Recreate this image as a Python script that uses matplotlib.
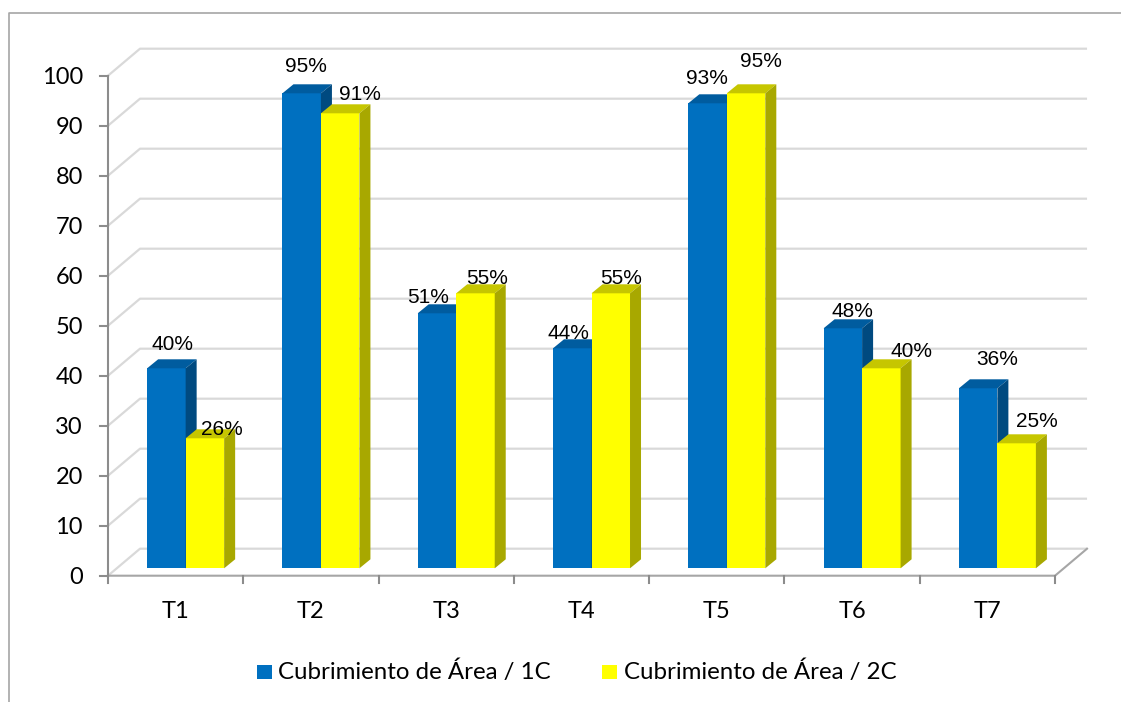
import matplotlib
matplotlib.use("Agg")
import matplotlib.pyplot as plt
from matplotlib.patches import Polygon, Rectangle

# ---- data -------------------------------------------------------------
categories = ["T1", "T2", "T3", "T4", "T5", "T6", "T7"]
cubrimiento_1c = [40, 95, 51, 44, 93, 48, 36]
cubrimiento_2c = [26, 91, 55, 55, 95, 40, 25]
series_names = ["Cubrimiento de Área / 1C", "Cubrimiento de Área / 2C"]
y_ticks = [0, 10, 20, 30, 40, 50, 60, 70, 80, 90, 100]

# ---- styling ------------------------------------------------------------
faces_1c = ("#0070C0", "#005C9F", "#004A80")   # front, top, side
faces_2c = ("#FFFF00", "#C6C600", "#A8A800")
GRID = "#D9D9D9"
AXIS = "#8C8C8C"
TICK_FONT = "Lato"
LABEL_FONT = "Liberation Sans"

# label nudges (pixels: right, down) so that labels avoid neighbouring bars
nudge_1c = [(0, -1), (-1.6, -4), (-14.4, 6.7), (-10.2, 7.4), (-6.5, -2.3), (4, 6), (13, -6)]
nudge_2c = [(10.8, 14), (13.4, 3.2), (6, 7.4), (4.8, 7.4), (8.6, -9.6), (24.5, 5.7), (14.7, 0.7)]

W, H = 1121, 702
fig = plt.figure(figsize=(W / 100, H / 100), dpi=100)
ax = fig.add_axes([0, 0, 1, 1])

CAT_PX = 135.29      # pixels per category
UNIT_PX = 5.0        # pixels per value unit
X_LEFT_PX = 108      # left end of the category axis
Y_ZERO_PX = 575.7    # value 0 on the front plane
ax.set_xlim(-0.5 - X_LEFT_PX / CAT_PX, -0.5 + (W - X_LEFT_PX) / CAT_PX)
ax.set_ylim((Y_ZERO_PX - H) / UNIT_PX, Y_ZERO_PX / UNIT_PX)
ax.axis("off")


def dx(px):
    return px / CAT_PX


def dy(px):
    return px / UNIT_PX


def at_px(xp, yp):
    """Screen pixel (from top-left) to data coordinates."""
    return -0.5 + (xp - X_LEFT_PX) / CAT_PX, (Y_ZERO_PX - yp) / UNIT_PX


n = len(categories)
x_lo, x_hi = -0.5, n - 0.5
DEPTH_X, DEPTH_Y = dx(32), dy(27)          # floor / wall depth
ymax = max(y_ticks)

# back wall + left wall gridlines
for v in y_ticks:
    ax.plot([x_lo, x_lo + DEPTH_X, x_hi + DEPTH_X], [v, v + DEPTH_Y, v + DEPTH_Y],
            color=GRID, lw=1.6, solid_capstyle="butt", zorder=1)

# floor edges
ax.plot([x_lo, x_hi, x_hi + DEPTH_X], [0, 0, DEPTH_Y], color="#A6A6A6", lw=1.5, zorder=2)

# value axis
ax.plot([x_lo, x_lo], [0, ymax], color=AXIS, lw=1.5, zorder=6)
for v in y_ticks:
    ax.plot([x_lo - dx(8), x_lo], [v, v], color=AXIS, lw=1.5, zorder=6)
    tx, _ = at_px(83, 0)
    ax.text(tx, v - dy(8.5), str(v), ha="right", va="baseline",
            fontsize=17, family=TICK_FONT, color="#000000")

# category axis ticks and labels
for k in range(n + 1):
    ax.plot([x_lo + k, x_lo + k], [0, -dy(7)], color=AXIS, lw=1.5, zorder=6)
_, cat_base = at_px(0, 618.5)
for i, c in enumerate(categories):
    ax.text(i, cat_base, c, ha="center", va="baseline",
            fontsize=17, family=TICK_FONT, color="#000000")

# 3-D looking columns
BAR_W = dx(38.5)
PAIR_SHIFT = dx(10)
BASE = dy(7.4)                  # bars stand slightly back on the floor
BAR_DX, BAR_DY = dx(11), dy(9)


def column(x0, v, faces, z):
    front, top, side = faces
    y0, y1 = BASE, BASE + v
    x1 = x0 + BAR_W
    ax.add_patch(Rectangle((x0, y0), BAR_W, v, facecolor=front, edgecolor="none", zorder=z))
    ax.add_patch(Polygon([(x0, y1), (x1, y1), (x1 + BAR_DX, y1 + BAR_DY), (x0 + BAR_DX, y1 + BAR_DY)],
                         closed=True, facecolor=top, edgecolor="none", zorder=z))
    ax.add_patch(Polygon([(x1, y0), (x1 + BAR_DX, y0 + BAR_DY), (x1 + BAR_DX, y1 + BAR_DY), (x1, y1)],
                         closed=True, facecolor=side, edgecolor="none", zorder=z))


for i in range(n):
    mid = i + PAIR_SHIFT
    column(mid - BAR_W, cubrimiento_1c[i], faces_1c, 3 + 2 * i)
    column(mid, cubrimiento_2c[i], faces_2c, 4 + 2 * i)

# data labels
for i in range(n):
    mid = i + PAIR_SHIFT
    for v, cx, (nx, ny) in ((cubrimiento_1c[i], mid - BAR_W / 2, nudge_1c[i]),
                             (cubrimiento_2c[i], mid + BAR_W / 2, nudge_2c[i])):
        lx = cx + dx(6 + nx)
        ly = BASE + v + dy(17 - ny)
        ax.text(lx, ly, f"{v}%", ha="center", va="baseline", fontsize=15,
                family=LABEL_FONT, color="#000000", zorder=30)

# legend
for (sx, tx), faces, name in (((257, 278), faces_1c, series_names[0]),
                               ((602, 623.5), faces_2c, series_names[1])):
    x0, y0 = at_px(sx, 678.5)
    ax.add_patch(Rectangle((x0, y0), dx(14.5), dy(14), facecolor=faces[0],
                           edgecolor="none", zorder=10))
    lx, ly = at_px(tx, 678.5)
    ax.text(lx, ly, name, ha="left", va="baseline", fontsize=17.3,
            family=TICK_FONT, color="#000000")

# chart frame
fx0, fy0 = at_px(9, 13)
fx1, _ = at_px(W + 5, 0)
_, fy1 = at_px(0, H + 5)
ax.plot([fx1, fx0, fx0], [fy0, fy0, fy1], color="#A6A6A6", lw=1.2, zorder=1)

fig.savefig("out.png", dpi=100)
